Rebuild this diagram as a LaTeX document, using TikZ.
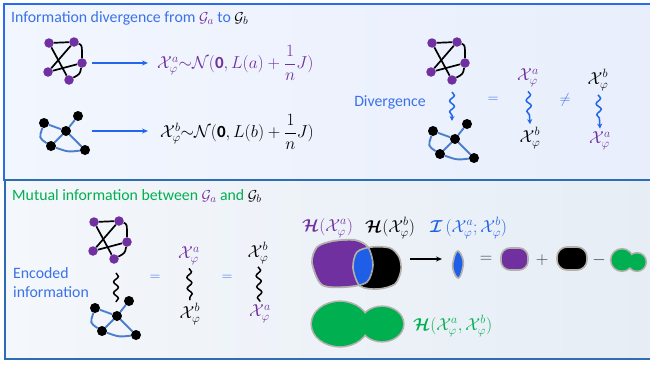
\documentclass[tikz,border=0pt]{standalone}
\usepackage{amsmath}
\usepackage{fontspec}
\setmainfont{Carlito}
\usepackage{bm}
\usetikzlibrary{decorations.pathmorphing,arrows.meta,calc}
\definecolor{purp}{HTML}{7030A0}
\definecolor{grn}{HTML}{00B050}
\definecolor{tblue}{HTML}{3A72E8}
\definecolor{iblue}{HTML}{1F5FE8}
\definecolor{edgeblue}{HTML}{4A7FD0}
\definecolor{arrblue}{HTML}{2266EE}
\definecolor{topbd}{HTML}{2A6AF0}
\definecolor{botbd}{HTML}{2E6DB4}
\definecolor{blobgray}{HTML}{B4B0AC}
\definecolor{opgray}{HTML}{3C3C3C}
\tikzset{
  pdot/.style={circle, fill=purp, inner sep=0pt, minimum size=9.5pt},
  bdot/.style={circle, fill=black, inner sep=0pt, minimum size=10pt},
  aedge/.style={draw=black, line width=1.7pt},
  bedge/.style={draw=edgeblue, line width=1.9pt},
  mtext/.style={font=\fontsize{17}{20}\selectfont, inner sep=0pt},
  stext/.style={font=\fontsize{15.8}{19}\selectfont, inner sep=0pt},
  harrow/.style={draw=arrblue, line width=1.5pt, -{Stealth[length=6pt,width=5pt]}},
  wavyblue/.style={draw=arrblue, line width=1.5pt, decorate,
    decoration={snake, amplitude=2.4pt, segment length=11pt, post length=5pt},
    -{Stealth[length=5pt,width=5pt]}},
  wavyblack/.style={draw=black, line width=1.5pt, decorate,
    decoration={snake, amplitude=2.4pt, segment length=11pt}},
  blob/.style={draw=blobgray, line width=1.6pt},
}
\newcommand\graphA[3]{%
\begin{scope}[shift={(#2,#3)}]
\node[pdot] (#1-1) at (49,43) {};
\node[pdot] (#1-2) at (74,42) {};
\node[pdot] (#1-3) at (82,63) {};
\node[pdot] (#1-4) at (48,72) {};
\node[pdot] (#1-5) at (69,80) {};
\draw[aedge] (#1-1) -- (#1-2);
\draw[aedge] (#1-2) -- (#1-4);
\draw[aedge] (#1-1) -- (#1-5);
\draw[aedge] (#1-4) -- (#1-3);
\draw[aedge] (#1-2) .. controls (82,45) .. (#1-3);
\draw[aedge] (#1-3) .. controls (80,74) .. (#1-5);
\end{scope}}
\newcommand\graphB[3]{%
\begin{scope}[shift={(#2,#3)}]
\node[bdot] (#1-1) at (44,123) {};
\node[bdot] (#1-2) at (78,116) {};
\node[bdot] (#1-3) at (66,131) {};
\node[bdot] (#1-4) at (51,146) {};
\node[bdot] (#1-5) at (85,150) {};
\draw[bedge] (#1-1) -- (#1-3);
\draw[bedge] (#1-3) -- (#1-2);
\draw[bedge] (#1-1) .. controls (39,138) .. (#1-4);
\draw[bedge] (#1-4) -- (#1-3);
\draw[bedge] (#1-3) -- (#1-5);
\draw[bedge] (#1-4) .. controls (68,152) .. (#1-5);
\end{scope}}
\begin{document}
\begin{tikzpicture}[x=1pt,y=-1pt]
\clip (0,0) rectangle (650,364);
\useasboundingbox (0,0) rectangle (650,364);
\fill[white] (0,0) rectangle (650,364);
% panels
\shade[left color={rgb,255:red,242;green,246;blue,254}, middle color={rgb,255:red,190;green,208;blue,244}, right color={rgb,255:red,232;green,238;blue,252}] (4,4) rectangle (660,180);
\draw[topbd, line width=2.5pt] (4,4) rectangle (660,180);
\shade[left color={rgb,255:red,244;green,247;blue,251}, middle color={rgb,255:red,200;green,217;blue,234}, right color={rgb,255:red,230;green,237;blue,245}] (5,180) rectangle (660,359);
\draw[botbd, line width=2.5pt] (5,180) rectangle (660,359);

% ---------- top panel ----------
\node[stext, text=tblue, anchor=west] (t1) at (11,18) {Information divergence from \textcolor{purp}{$\mathcal{G}_a$} to \textcolor{black}{$\mathcal{G}_b$}};
\graphA{ga}{0}{0}
\graphB{gb}{0}{0}
\node[mtext, text=purp, anchor=west] (fa) at (157,63) {$\mathcal{X}^a_\varphi{\sim}\mathcal{N}(\mathbf{0},L(a)+\dfrac{1}{n}J)$};
\node[mtext, anchor=west] (fb) at (160,132) {$\mathcal{X}^b_\varphi{\sim}\mathcal{N}(\mathbf{0},L(b)+\dfrac{1}{n}J)$};
\draw[harrow] ([xshift=5pt]ga-3.east) -- ([xshift=-9pt]ga-3.east -| fa.west);
\draw[harrow] ([xshift=21pt]gb-3.east) -- ([xshift=-12pt]gb-3.east -| fb.west);

\graphA{gar}{383}{0}
\graphB{gbr}{389}{8}
\node[stext, text=tblue] (div) at (390,102) {Divergence};
\draw[wavyblue] ($(gar-5.south)+(0,7)$) -- ($(gar-5.south)+(0,36)$);
\node[stext, text=tblue] (eq1) at (493,100) {$=$};
\node[mtext, text=purp] (x1a) at (528,78) {$\mathcal{X}^a_\varphi$};
\node[mtext] (x1b) at (530,138) {$\mathcal{X}^b_\varphi$};
\draw[wavyblue] ([yshift=-4pt]x1a.south) -- ([yshift=3pt]x1b.north);
\node[stext, text=tblue] (neq) at (565,100) {$\neq$};
\node[mtext] (x2b) at (598,80) {$\mathcal{X}^b_\varphi$};
\node[mtext, text=purp] (x2a) at (600,141) {$\mathcal{X}^a_\varphi$};
\draw[wavyblue] ([yshift=-4pt]x2b.south) -- ([yshift=3pt]x2a.north);

% ---------- bottom panel ----------
\node[stext, text=grn, anchor=west] (t2) at (12,196) {Mutual information between \textcolor{purp}{$\mathcal{G}_a$} and \textcolor{black}{$\mathcal{G}_b$}};
\graphA{gab}{45}{179}
\graphB{gbb}{51}{185}
\draw[wavyblack] ($(gab-5.south)+(2,9)$) -- ($(gab-5.south)+(2,38)$);
\node[stext, text=tblue, anchor=west, align=left] (enc) at (13,283) {Encoded\\information};
\node[stext, text=tblue] (eq2) at (155,278) {$=$};
\node[mtext, text=purp] (x3a) at (189,256) {$\mathcal{X}^a_\varphi$};
\node[mtext] (x3b) at (190,314) {$\mathcal{X}^b_\varphi$};
\draw[wavyblack] ([yshift=-3pt]x3a.south) -- ([yshift=3pt]x3b.north);
\node[stext, text=tblue] (eq3) at (227,278) {$=$};
\node[mtext] (x4b) at (258,253) {$\mathcal{X}^b_\varphi$};
\node[mtext, text=purp] (x4a) at (260,314) {$\mathcal{X}^a_\varphi$};
\draw[wavyblack] ([yshift=-3pt]x4b.south) -- ([yshift=3pt]x4a.north);

% entropy labels
\node[mtext, text=purp, anchor=west] (ha) at (302,228) {$\bm{\mathcal{H}}(\mathcal{X}^a_\varphi)$};
\node[mtext, anchor=west] (hb) at (365,228) {$\bm{\mathcal{H}}(\mathcal{X}^b_\varphi)$};
\node[mtext, text=iblue, anchor=west] (iab) at (430,228) {$\bm{\mathcal{I}}\,(\mathcal{X}^a_\varphi;\mathcal{X}^b_\varphi)$};
\node[mtext, text=grn, anchor=west] (hab) at (413,326) {$\bm{\mathcal{H}}(\mathcal{X}^a_\varphi,\mathcal{X}^b_\varphi)$};

% big venn blobs
\draw[blob, fill=black] plot[smooth cycle] coordinates {(353,268) (357,252) (372,247) (390,248) (399,257) (401,270) (395,284) (378,289) (360,286)};
\draw[blob, fill=purp] plot[smooth cycle] coordinates {(312,263) (317,247) (333,241) (355,240) (368,247) (373,265) (367,282) (347,287) (322,285)};
\begin{scope}
\clip plot[smooth cycle] coordinates {(312,263) (317,247) (333,241) (355,240) (368,247) (373,265) (367,282) (347,287) (322,285)};
\draw[blob, fill=iblue] plot[smooth cycle] coordinates {(353,268) (357,252) (372,247) (390,248) (399,257) (401,270) (395,284) (378,289) (360,286)};
\draw[blob] plot[smooth cycle] coordinates {(312,263) (317,247) (333,241) (355,240) (368,247) (373,265) (367,282) (347,287) (322,285)};
\end{scope}
\coordinate (arrS) at (410,259);
\coordinate (arrE) at (442,259);
\draw[line width=1.6pt, -{Stealth[length=6pt,width=5pt]}] (arrS) -- (arrE);

% small blobs
\draw[blob, fill=iblue] plot[smooth cycle, tension=0.7] coordinates {(458,251) (463,260) (462,271) (458,278) (453,269) (454,258)};
\node[mtext, text=opgray] (eq4) at (486,259) {$=$};
\draw[blob, fill=purp, rounded corners=9pt] (501,248) rectangle (528,270);
\node[mtext, text=opgray] (plus) at (542,260) {$+$};
\draw[blob, fill=black, rounded corners=10pt] (557,247) rectangle (587,270);
\node[mtext, text=opgray] (minus) at (599,260) {$-$};
\draw[blobgray, line width=3.2pt] (622,260) circle (10.5) (637,262) circle (8.5);
\fill[grn] (622,260) circle (10.5) (637,262) circle (8.5);
% big green blob
\draw[blobgray, line width=3.2pt] (340,324) ellipse (28 and 22) (382,324) ellipse (21 and 17);
\fill[grn] (340,324) ellipse (28 and 22) (382,324) ellipse (21 and 17);
\end{tikzpicture}
\end{document}
